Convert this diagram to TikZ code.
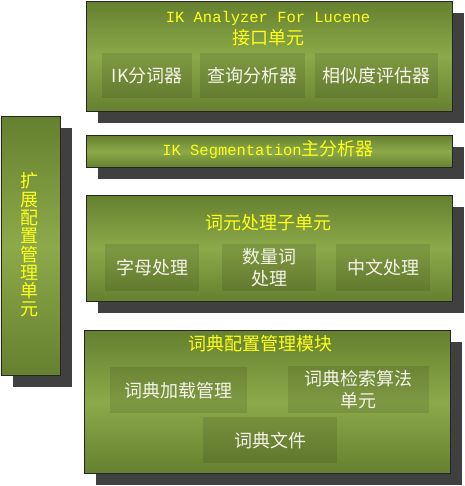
\documentclass[tikz,border=0pt]{standalone}
\usepackage{fontspec}
\setmonofont[Scale=0.86]{Liberation Mono}
\newfontfamily\cjk{Noto Sans CJK SC}
\usepackage{xcolor}
\usetikzlibrary{positioning, calc, shadows}

\definecolor{olivedark}{HTML}{65802F}
\definecolor{olivelight}{HTML}{8CAA4A}
\definecolor{shadowgray}{HTML}{404040}
\definecolor{titleyellow}{HTML}{FFFF1A}
\definecolor{itemwhite}{HTML}{F4F4E8}

\begin{document}
\begin{tikzpicture}[x=1pt, y=-1pt,
    panel/.style={draw=black!85, line width=0.8pt, anchor=north west, inner sep=0pt,
        top color=olivedark, bottom color=olivedark, middle color=olivelight,
        drop shadow={shadow xshift=12pt, shadow yshift=-12pt, fill=shadowgray, opacity=1}},
    title/.style={text=titleyellow, align=center, font=\cjk\fontsize{18}{22}\selectfont},
    item/.style={anchor=north west, inner sep=0pt, fill=black, fill opacity=0.1, text opacity=1,
        text=itemwhite, align=center, font=\cjk\fontsize{18}{22}\selectfont}]
    \useasboundingbox (0,0) rectangle (464,486);

    % The panels with their shadows
    \node[panel, minimum width=366pt, minimum height=110pt] (iface) at (86,1) {};
    \node[panel, minimum width=366pt, minimum height=32pt] (seg) at (86,135) {};
    \node[panel, minimum width=366pt, minimum height=106pt] (lexeme) at (86,195) {};
    \node[panel, minimum width=366pt, minimum height=143pt] (dict) at (84,330) {};
    \node[panel, minimum width=59pt, minimum height=259pt] (ext) at (0.5,116) {};

    % Panel titles
    \node[title] (ifacetitle) at (268,29) {{\ttfamily IK Analyzer For Lucene}\\接口单元};
    \node[title] (segtitle) at (268,150) {{\ttfamily IK Segmentation}主分析器};
    \node[title] (lexemetitle) at (268,223) {词元处理子单元};
    \node[title] (dicttitle) at (260,344) {词典配置管理模块};
    \node[title, font=\cjk\fontsize{18}{18.3}\selectfont] (exttitle) at (29,245)
        {扩\\展\\配\\置\\管\\理\\单\\元};

    % The units inside the panels
    \foreach \n/\x/\y/\w/\h/\txt in {
        i1/102/53/90/45/{IK分词器},
        i2/200/53/105/45/{查询分析器},
        i3/315/53/123/45/{相似度评估器},
        i4/105/244/94/47/{字母处理},
        i5/222/244/94/47/{数量词\\处理},
        i6/336/244/94/47/{中文处理},
        i7/110/367/137/46/{词典加载管理},
        i8/288/366/141/47/{词典检索算法\\单元},
        i9/203/417/134/46/{词典文件}} {
        \node[item, minimum width=\w pt, minimum height=\h pt] (\n) at (\x,\y) {\txt};
    }
\end{tikzpicture}
\end{document}
